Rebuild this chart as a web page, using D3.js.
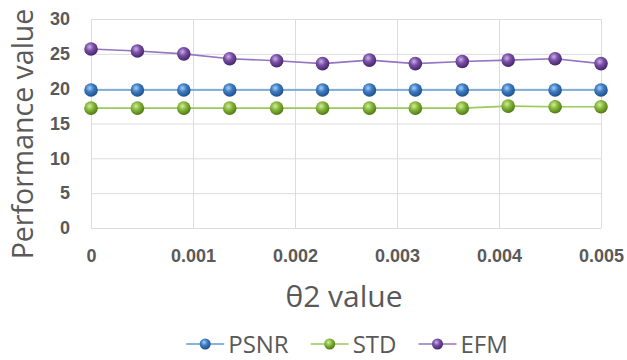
<!DOCTYPE html>
<html>
<head>
<meta charset="utf-8">
<script src="https://cdn.jsdelivr.net/npm/d3@7/dist/d3.min.js"></script>
<style>
  body { margin: 0; background: #fff; }
  svg { display: block; font-family: 'Open Sans', sans-serif; }
</style>
</head>
<body>
<div class="chart"></div>
<script>
// theta2 values (x) and the three performance series
var theta = [0, 0.000455, 0.00091, 0.00136, 0.00182, 0.00227, 0.00273, 0.00318, 0.00364, 0.00409, 0.00455, 0.005]
var psnr = [19.8, 19.8, 19.8, 19.8, 19.8, 19.8, 19.8, 19.8, 19.8, 19.8, 19.8, 19.8]
var std = [17.2, 17.2, 17.2, 17.2, 17.2, 17.2, 17.2, 17.2, 17.2, 17.5, 17.4, 17.4]
var efm = [25.7, 25.4, 25.0, 24.3, 24.0, 23.6, 24.1, 23.6, 23.9, 24.1, 24.3, 23.6]

var xTicks = [0, 0.001, 0.002, 0.003, 0.004, 0.005]
var yTicks = [0, 5, 10, 15, 20, 25, 30]
var seriesNames = ['PSNR', 'STD', 'EFM']

var width = 627
var height = 360
var plot = { left: 91, right: 601, top: 19, bottom: 228 }

var styles = {
  PSNR: { line: '#5b9bd5', ball: '#3d7cc4', hi: '#a9cdf2', dark: '#1f4f8a' },
  STD: { line: '#9bc95a', ball: '#86b83a', hi: '#d2ec9e', dark: '#4f7a14' },
  EFM: { line: '#9575c2', ball: '#7a4fa6', hi: '#c9b1e6', dark: '#46256b' }
}

var series = [
  { name: 'PSNR', values: psnr },
  { name: 'STD', values: std },
  { name: 'EFM', values: efm }
]

var svg = d3.select('.chart')
  .append('svg')
  .attr('width', width)
  .attr('height', height)

var defs = svg.append('defs')
seriesNames.forEach(function (n) {
  var s = styles[n]
  var grad = defs.append('radialGradient')
    .attr('id', 'ball-' + n)
    .attr('cx', '40%').attr('cy', '35%').attr('r', '65%')
  grad.append('stop').attr('offset', '0%').attr('stop-color', s.hi)
  grad.append('stop').attr('offset', '45%').attr('stop-color', s.ball)
  grad.append('stop').attr('offset', '100%').attr('stop-color', s.dark)
})

var x = d3.scaleLinear()
  .domain([0, 0.005])
  .range([plot.left, plot.right])

var y = d3.scaleLinear()
  .domain([0, 30])
  .range([plot.bottom, plot.top])

// horizontal grid + y labels
var yAxis = svg.append('g')
  .attr('transform', 'translate(' + plot.left + ',0)')
  .call(d3.axisLeft(y)
    .tickValues(yTicks)
    .tickSize(-(plot.right - plot.left))
    .tickPadding(21)
    .tickFormat(d3.format('d')))
yAxis.select('.domain').remove()
yAxis.selectAll('line').attr('stroke', '#dcdcdc').attr('stroke-width', 1)
yAxis.selectAll('text')
  .attr('fill', '#595959')
  .style('font-size', '18px')
  .style('font-weight', 'bold')

// vertical grid + x labels
var xAxis = svg.append('g')
  .attr('transform', 'translate(0,' + plot.bottom + ')')
  .call(d3.axisBottom(x)
    .tickValues(xTicks)
    .tickSize(-(plot.bottom - plot.top))
    .tickPadding(21)
    .tickFormat(function (d) { return d === 0 ? '0' : d3.format('.3f')(d) }))
xAxis.select('.domain').remove()
xAxis.selectAll('line').attr('stroke', '#dcdcdc').attr('stroke-width', 1)
xAxis.selectAll('text')
  .attr('fill', '#595959')
  .style('font-size', '18px')
  .style('font-weight', 'bold')

// lines
var line = d3.line()
  .x(function (d, i) { return x(theta[i]) })
  .y(function (d) { return y(d) })

var g = svg.append('g')
series.forEach(function (s) {
  g.append('path')
    .datum(s.values)
    .attr('fill', 'none')
    .attr('stroke', styles[s.name].line)
    .attr('stroke-width', 1.6)
    .attr('d', line)
})

series.forEach(function (s) {
  g.selectAll('circle.' + s.name)
    .data(s.values)
    .enter()
    .append('circle')
    .attr('class', s.name)
    .attr('cx', function (d, i) { return x(theta[i]) })
    .attr('cy', function (d) { return y(d) })
    .attr('r', 6.8)
    .attr('fill', 'url(#ball-' + s.name + ')')
})

// axis titles
svg.append('text')
  .attr('transform', 'translate(33,134) rotate(-90)')
  .attr('text-anchor', 'middle')
  .attr('fill', '#595959')
  .style('font-size', '28.5px')
  .text('Performance value')

svg.append('text')
  .attr('x', (plot.left + plot.right) / 2 - 2)
  .attr('y', 307)
  .attr('text-anchor', 'middle')
  .attr('fill', '#595959')
  .style('font-size', '30px')
  .text('θ2 value')

// legend
var legend = svg.append('g')
var lx = 0
seriesNames.forEach(function (n, i) {
  var item = legend.append('g').attr('transform', 'translate(' + lx + ',0)')
  item.append('line')
    .attr('x1', 0).attr('x2', 38)
    .attr('y1', 0).attr('y2', 0)
    .attr('stroke', styles[n].line)
    .attr('stroke-width', 1.6)
  item.append('circle')
    .attr('cx', 19).attr('cy', 0).attr('r', 5.5)
    .attr('fill', 'url(#ball-' + n + ')')
  var t = item.append('text')
    .attr('x', 42)
    .attr('y', 9)
    .attr('fill', '#595959')
    .style('font-size', '24px')
    .text(n)
  lx += 42 + t.node().getComputedTextLength() + 22
})
var legendWidth = lx - 22
legend.attr('transform', 'translate(' + (347 - legendWidth / 2) + ',344)')
</script>
</body>
</html>
